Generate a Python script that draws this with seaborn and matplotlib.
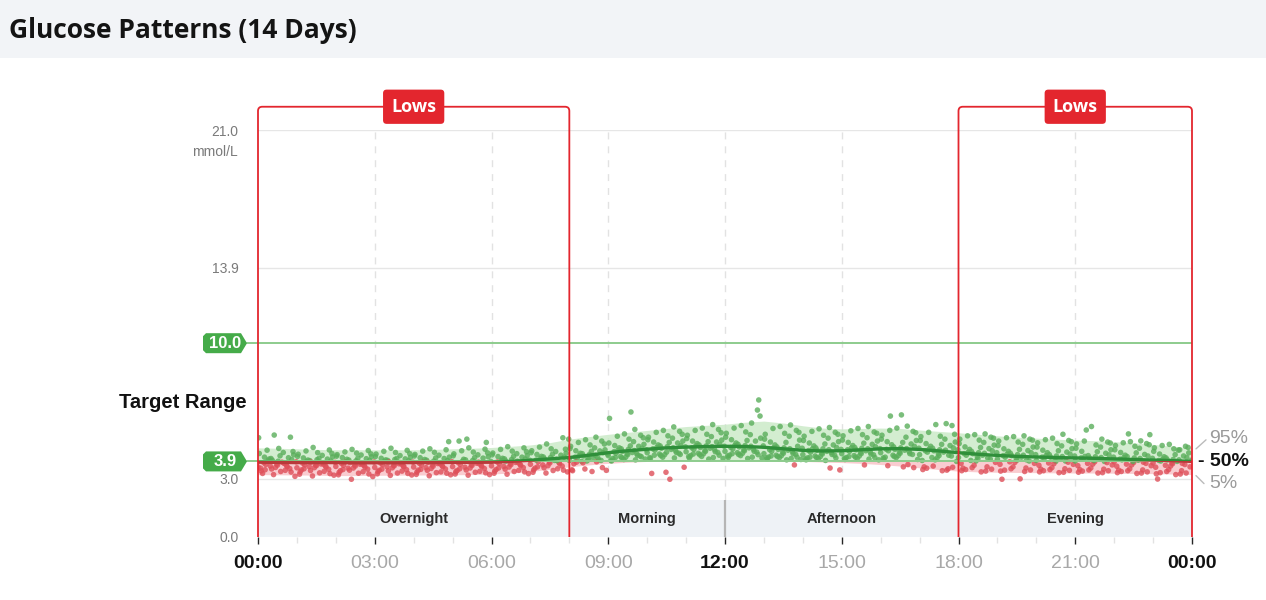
import numpy as np
import pandas as pd
import matplotlib
matplotlib.use("Agg")
import matplotlib.pyplot as plt
import matplotlib.transforms as mtrans
from matplotlib.path import Path
from matplotlib.patches import PathPatch, Rectangle, Polygon
import seaborn as sns

# ---------------- data ----------------
title = "Glucose Patterns (14 Days)"
target_low = 3.9
target_high = 10.0
y_ticks = [0.0, 3.0, 13.9, 21.0]
x_tick_hours = [0, 3, 6, 9, 12, 15, 18, 21, 24]
x_tick_labels = ["00:00", "03:00", "06:00", "09:00", "12:00", "15:00", "18:00", "21:00", "00:00"]
bold_ticks = [0, 12, 24]
period_names = ["Overnight", "Morning", "Afternoon", "Evening"]
period_bounds = [0, 8, 12, 18, 24]
lows_windows = [(0, 8), (18, 24)]

slot_minutes = 20
day_offsets_min = [0, 10, 5, 15, 2, 12, 7, 17, 4, 14, 9, 19, 1, 11]

# readings per hour: 3 slots x 14 days
hour_readings = [
    [3.62, 4.12, 3.41, 3.93, 4.31, 3.74, 3.28, 4.02, 3.55, 4.48, 3.83, 3.66, 5.12, 3.47,
     4.05, 3.71, 5.26, 3.38, 3.96, 4.57, 3.59, 3.86, 3.22, 4.19, 3.77, 4.36, 3.51, 3.91,
     3.81, 5.15, 3.63, 4.24, 3.44, 3.99, 4.09, 3.13, 3.69, 4.41, 3.53, 3.88, 3.79, 3.35],
    [3.57, 4.08, 3.36, 3.90, 4.27, 3.72, 3.46, 3.97, 3.24, 4.44, 3.81, 3.63, 4.16, 3.52,
     3.94, 3.68, 4.62, 3.31, 3.86, 4.35, 3.58, 3.77, 3.15, 4.06, 3.71, 4.21, 3.43, 3.99,
     3.83, 4.49, 3.61, 4.13, 3.39, 3.92, 4.02, 3.19, 3.66, 4.31, 3.49, 3.85, 3.75, 3.27],
    [3.64, 4.10, 3.33, 3.88, 4.25, 3.70, 3.42, 4.01, 3.21, 4.39, 3.79, 3.55, 4.17, 3.48,
     3.97, 3.66, 4.52, 3.29, 3.84, 4.33, 3.56, 3.76, 2.98, 4.07, 3.73, 4.23, 3.45, 3.93,
     3.80, 4.46, 3.60, 4.14, 3.37, 3.95, 4.04, 3.12, 3.68, 4.29, 3.50, 3.87, 3.74, 3.25],
    [3.59, 4.06, 3.38, 3.91, 4.28, 3.73, 3.44, 3.98, 3.26, 4.42, 3.82, 3.62, 4.15, 3.50,
     3.95, 3.67, 4.58, 3.30, 3.87, 4.36, 3.57, 3.78, 3.18, 4.05, 3.70, 4.20, 3.41, 4.00,
     3.84, 4.47, 3.63, 4.11, 3.40, 3.93, 4.03, 3.20, 3.65, 4.30, 3.47, 3.86, 3.76, 3.28],
    [3.61, 4.09, 3.35, 3.89, 4.26, 3.71, 3.45, 4.00, 3.23, 4.43, 3.80, 3.58, 4.18, 3.49,
     3.96, 3.65, 4.55, 3.32, 3.85, 4.37, 3.54, 3.79, 3.16, 4.08, 3.72, 4.22, 3.44, 3.92,
     3.82, 4.50, 3.62, 4.12, 3.36, 3.94, 4.05, 3.21, 3.67, 4.92, 3.51, 3.88, 3.77, 3.29],
    [3.63, 4.95, 3.37, 3.90, 4.29, 3.74, 3.43, 4.01, 3.25, 4.45, 3.83, 3.60, 4.19, 3.52,
     3.98, 3.69, 4.60, 3.34, 5.05, 4.38, 3.56, 3.81, 3.19, 4.10, 3.73, 4.24, 3.46, 3.95,
     3.86, 4.53, 3.64, 4.14, 3.39, 4.88, 4.07, 3.22, 3.70, 4.34, 3.53, 3.90, 3.78, 3.31],
    [3.67, 4.15, 3.40, 3.95, 4.33, 3.78, 3.48, 4.06, 3.29, 4.52, 3.87, 3.64, 4.24, 3.56,
     4.03, 3.73, 4.66, 3.38, 3.92, 4.43, 3.61, 3.85, 3.24, 4.16, 3.79, 4.30, 3.50, 4.00,
     3.91, 4.60, 3.69, 4.20, 3.44, 4.02, 4.12, 3.27, 3.75, 4.40, 3.58, 3.96, 3.84, 3.36],
    [3.75, 4.26, 3.46, 4.05, 4.45, 3.88, 3.55, 4.16, 3.34, 4.64, 3.97, 3.72, 4.35, 3.62,
     4.13, 3.82, 4.80, 3.43, 4.02, 4.55, 3.68, 3.95, 3.30, 4.27, 3.89, 4.41, 3.57, 4.10,
     4.01, 5.12, 3.78, 4.32, 3.52, 4.12, 4.22, 3.36, 3.85, 4.53, 3.66, 5.05, 3.94, 3.45],
    [3.95, 4.45, 3.42, 4.20, 4.68, 4.05, 3.78, 4.32, 3.47, 4.88, 4.12, 3.90, 4.56, 3.86,
     4.30, 4.00, 5.02, 3.38, 4.18, 4.75, 3.92, 4.10, 3.51, 4.42, 4.06, 4.60, 3.83, 4.26,
     4.22, 4.95, 3.98, 4.50, 3.88, 4.35, 4.44, 3.44, 4.08, 4.80, 3.95, 4.28, 5.15, 3.58],
    [4.20, 4.72, 3.92, 4.48, 6.12, 4.32, 4.05, 4.60, 3.96, 5.20, 4.40, 4.15, 4.85, 4.10,
     4.55, 4.25, 5.32, 6.45, 4.42, 5.05, 4.12, 4.36, 4.00, 4.70, 4.30, 4.92, 4.08, 4.52,
     4.46, 5.25, 4.22, 4.78, 3.98, 4.58, 4.68, 4.02, 4.30, 5.12, 4.18, 4.50, 5.55, 4.14],
    [4.35, 4.90, 4.05, 4.62, 5.15, 4.48, 3.28, 4.75, 4.10, 5.40, 4.55, 4.28, 5.02, 4.22,
     4.70, 4.38, 5.50, 2.98, 4.58, 5.22, 4.25, 4.52, 4.12, 4.88, 3.34, 5.10, 4.20, 4.66,
     4.60, 5.45, 4.36, 4.95, 4.08, 4.72, 4.85, 3.60, 4.45, 5.30, 4.32, 4.65, 5.68, 4.26],
    [4.40, 4.95, 4.08, 4.70, 5.25, 4.52, 4.20, 4.82, 4.15, 5.50, 4.60, 4.32, 5.08, 4.28,
     4.75, 4.42, 5.62, 4.02, 4.62, 5.30, 4.30, 4.58, 4.16, 4.92, 4.46, 5.18, 4.24, 4.70,
     4.66, 5.55, 4.40, 5.00, 4.10, 4.78, 4.90, 4.05, 4.50, 5.38, 4.36, 4.68, 5.80, 4.22],
    [4.42, 5.02, 4.10, 4.72, 5.35, 4.55, 4.22, 4.85, 4.18, 5.62, 4.62, 4.35, 5.15, 4.30,
     4.78, 4.45, 5.75, 4.05, 4.65, 5.42, 4.32, 4.60, 4.20, 4.98, 4.50, 5.28, 4.26, 4.72,
     4.68, 6.55, 4.42, 5.10, 4.12, 7.07, 4.95, 4.08, 4.52, 6.24, 4.38, 4.70, 5.88, 4.25],
    [4.30, 4.90, 4.02, 4.60, 5.30, 4.42, 4.12, 4.75, 4.08, 5.60, 4.50, 4.22, 5.05, 4.18,
     4.65, 4.32, 5.70, 3.98, 4.52, 5.35, 4.20, 4.48, 4.10, 4.88, 4.38, 5.20, 4.15, 4.60,
     4.55, 5.50, 4.30, 5.00, 4.05, 4.68, 3.72, 4.00, 4.40, 5.40, 4.26, 4.58, 5.78, 4.12],
    [4.25, 4.85, 3.98, 4.55, 5.20, 4.38, 4.08, 4.70, 4.02, 5.45, 4.46, 4.18, 4.98, 4.12,
     4.60, 4.28, 5.58, 3.95, 4.48, 5.25, 4.15, 4.42, 4.05, 4.80, 4.34, 5.10, 4.10, 4.55,
     4.50, 5.40, 4.26, 4.92, 3.56, 4.62, 4.75, 3.46, 4.36, 5.30, 4.22, 4.52, 5.65, 4.08],
    [4.30, 4.88, 4.00, 4.60, 5.22, 4.42, 4.10, 4.72, 4.05, 5.48, 4.50, 4.20, 5.00, 4.15,
     4.62, 4.30, 5.60, 3.72, 4.50, 5.28, 4.18, 4.45, 4.06, 4.84, 4.36, 5.12, 4.12, 4.58,
     4.55, 5.42, 4.28, 4.95, 4.02, 4.66, 4.78, 3.98, 4.38, 5.35, 4.24, 4.56, 5.70, 4.10],
    [4.35, 4.92, 4.02, 6.24, 5.25, 4.45, 4.12, 4.76, 4.08, 5.50, 4.52, 4.22, 5.05, 3.68,
     4.65, 4.32, 5.62, 3.62, 4.52, 6.30, 4.20, 4.48, 4.10, 4.88, 4.38, 5.15, 4.15, 4.60,
     4.56, 5.45, 4.30, 4.98, 3.74, 4.68, 4.80, 4.00, 4.40, 5.38, 4.26, 4.58, 5.72, 3.58],
    [4.25, 4.82, 3.48, 4.55, 5.18, 4.38, 3.62, 4.68, 3.95, 5.40, 4.45, 4.10, 4.98, 3.55,
     4.58, 4.20, 5.80, 3.42, 4.45, 5.20, 4.08, 4.38, 3.98, 4.78, 4.30, 5.05, 3.66, 4.50,
     4.48, 5.75, 4.22, 4.90, 3.45, 4.60, 4.72, 3.90, 3.52, 5.30, 4.18, 4.50, 5.85, 3.60],
    [4.10, 4.65, 3.42, 4.38, 5.05, 4.22, 3.55, 4.52, 3.80, 5.22, 4.30, 3.95, 4.82, 3.48,
     4.42, 4.05, 5.28, 3.36, 4.30, 5.00, 3.92, 4.22, 3.70, 4.62, 4.15, 4.88, 3.58, 4.35,
     4.32, 5.15, 4.08, 4.74, 3.40, 4.45, 4.56, 3.85, 3.62, 5.10, 4.02, 4.35, 5.32, 3.50],
    [4.02, 4.55, 3.40, 4.28, 4.95, 4.12, 2.98, 4.42, 3.75, 5.12, 4.20, 3.88, 4.72, 3.45,
     4.32, 3.96, 5.18, 3.00, 4.20, 4.90, 3.85, 4.12, 3.62, 4.52, 4.05, 4.78, 3.52, 4.25,
     4.22, 5.05, 3.98, 4.64, 3.38, 4.35, 4.46, 3.80, 3.56, 5.00, 3.92, 4.25, 5.22, 3.46],
    [3.95, 4.48, 3.36, 4.20, 4.86, 4.05, 3.50, 4.35, 3.70, 5.02, 4.12, 3.82, 4.64, 3.42,
     4.25, 3.90, 5.10, 3.32, 4.12, 4.82, 3.78, 4.05, 3.58, 4.45, 3.98, 4.70, 3.48, 4.18,
     4.15, 4.98, 3.92, 4.56, 3.34, 4.28, 4.38, 3.75, 3.52, 4.92, 3.86, 4.18, 5.30, 3.44],
    [3.92, 4.42, 3.34, 4.16, 4.80, 4.02, 3.48, 5.52, 3.68, 4.95, 4.08, 3.80, 4.58, 3.40,
     4.20, 3.88, 5.70, 3.30, 4.08, 4.75, 3.76, 4.02, 3.56, 4.40, 3.95, 4.64, 3.46, 4.14,
     4.10, 4.90, 3.90, 4.50, 3.32, 4.24, 4.32, 3.72, 3.50, 4.85, 3.84, 4.12, 5.05, 3.42],
    [3.88, 4.36, 3.32, 4.10, 4.72, 3.98, 3.45, 4.22, 3.65, 4.86, 4.02, 3.76, 4.50, 3.38,
     4.15, 3.84, 4.92, 3.28, 5.32, 4.68, 3.72, 3.96, 3.52, 4.34, 3.90, 4.58, 3.42, 4.08,
     4.05, 4.82, 3.86, 5.28, 3.30, 4.18, 4.26, 3.68, 3.46, 4.76, 3.80, 4.06, 4.96, 3.36],
    [3.82, 4.28, 3.26, 4.02, 4.60, 3.92, 2.99, 4.14, 3.60, 4.72, 3.95, 3.70, 4.42, 3.32,
     4.08, 3.78, 4.78, 3.22, 3.98, 4.55, 3.66, 3.90, 3.48, 4.25, 3.84, 4.48, 3.38, 4.00,
     3.98, 4.68, 3.80, 4.34, 3.25, 4.10, 4.18, 3.62, 3.42, 4.62, 3.74, 3.96, 4.50, 3.30],
]

# percentile curves every 30 minutes (00:00 .. 24:00)
p5 = [3.22, 3.21, 3.20, 3.19, 3.17, 3.17, 3.18, 3.19, 3.20, 3.20, 3.21, 3.22, 3.25,
      3.30, 3.38, 3.50, 3.62, 3.72, 3.80, 3.86, 3.90, 3.94, 3.96, 3.97, 3.97, 3.96,
      3.95, 3.93, 3.90, 3.87, 3.84, 3.80, 3.74, 3.66, 3.57, 3.48, 3.40, 3.36, 3.34,
      3.33, 3.32, 3.31, 3.30, 3.30, 3.29, 3.28, 3.27, 3.25, 3.22]
p50 = [3.86, 3.85, 3.84, 3.84, 3.84, 3.83, 3.83, 3.83, 3.84, 3.84, 3.85, 3.85, 3.86,
       3.90, 3.96, 4.03, 4.10, 4.22, 4.35, 4.45, 4.53, 4.60, 4.64, 4.67, 4.68, 4.67,
       4.63, 4.55, 4.47, 4.44, 4.45, 4.50, 4.55, 4.56, 4.52, 4.44, 4.35, 4.27, 4.21,
       4.16, 4.13, 4.10, 4.08, 4.06, 4.03, 4.00, 3.97, 3.94, 3.90]
p95 = [4.60, 4.58, 4.55, 4.52, 4.50, 4.50, 4.50, 4.50, 4.50, 4.52, 4.55, 4.58, 4.62,
       4.68, 4.75, 4.87, 5.05, 5.18, 5.30, 5.40, 5.50, 5.60, 5.70, 5.76, 5.82, 5.92,
       5.98, 5.88, 5.74, 5.62, 5.58, 5.60, 5.62, 5.60, 5.52, 5.45, 5.38, 5.30, 5.22,
       5.15, 5.10, 5.05, 5.00, 4.97, 4.92, 4.86, 4.78, 4.68, 4.60]
pct_hours = np.arange(len(p50)) * 0.5

# ---------------- styling ----------------
GREEN_DOT = "#5aae5b"
RED_DOT = "#de4f59"
GREEN_LINE = "#2f8f3a"
RED_LINE = "#b83a3a"
BADGE = "#45ab49"
THRESH = "#8dcc8d"
LOWS_RED = "#e3262e"

sns.set_theme(style="white")
plt.rcParams["font.family"] = ["Liberation Sans", "DejaVu Sans"]

fig = plt.figure(figsize=(12.66, 6.0), dpi=100)
fig.patches.append(Rectangle((0, 1 - 58 / 600), 1, 58 / 600, transform=fig.transFigure,
                             fc="#f2f4f7", ec="none", zorder=0))
fig.text(9 / 1266, 1 - 31 / 600, title, fontfamily=["Open Sans", "DejaVu Sans"],
         fontweight="bold", fontsize=19, va="center", ha="left", color="#141414")

ax = fig.add_axes([258 / 1266, 63 / 600, 934 / 1266, 407 / 600])
ax.set_xlim(0, 24)
ax.set_ylim(0, 21)
for s in ax.spines.values():
    s.set_visible(False)
ax.set_facecolor("white")


def anchor(x, y):
    """pixel offsets (at 100 dpi) around a data point"""
    return (mtrans.Affine2D().scale(1 / 100) + fig.dpi_scale_trans
            + mtrans.ScaledTranslation(x, y, ax.transData))


band_top = 1.9
# gridlines
for v in [3.0, 13.9, 21.0]:
    ax.axhline(v, color="#e6e6e6", lw=1, zorder=0.4)
for h in x_tick_hours:
    if h in (0, 24, 18, 8):
        continue
    ax.vlines(h, band_top, 21, color="#e2e2e2", lw=1, ls=(0, (5, 5)), zorder=0.4)

# period band
ax.add_patch(Rectangle((0, 0), 24, band_top, fc="#eef2f6", ec="none", zorder=0.5))
for i, name in enumerate(period_names):
    a, b = period_bounds[i], period_bounds[i + 1]
    ax.text((a + b) / 2, band_top / 2, name, ha="center", va="center", fontsize=10.5,
            fontweight="bold", color="#2b2b2b", zorder=1)
    if 0 < a and not any(a in w for w in lows_windows):
        ax.vlines(a, 0, band_top, color="#b5b5b5", lw=1.6, zorder=1)

# percentile bands, split at target_low
clip_hi = Rectangle((0, target_low), 24, 30, transform=ax.transData)
clip_lo = Rectangle((0, -5), 24, target_low + 5, transform=ax.transData)
fb_g = ax.fill_between(pct_hours, p5, p95, color="#c8e9c5", alpha=0.8, lw=0, zorder=1)
fb_g.set_clip_path(clip_hi)
fb_r = ax.fill_between(pct_hours, p5, p95, color="#f8c4c8", alpha=0.85, lw=0, zorder=1)
fb_r.set_clip_path(clip_lo)

# scatter readings
rows = []
for h, vals in enumerate(hour_readings):
    for i, v in enumerate(vals):
        slot = h * 3 + i // 14
        day = i % 14
        t = (slot * slot_minutes + day_offsets_min[day]) / 60
        rows.append((t, v, "Low" if v < target_low else "In range"))
df = pd.DataFrame(rows, columns=["hour", "glucose", "status"])
sns.scatterplot(data=df, x="hour", y="glucose", hue="status",
                palette={"Low": RED_DOT, "In range": GREEN_DOT},
                s=16, linewidth=0, alpha=0.8, legend=False, ax=ax, zorder=2)

# target lines + badges
for v in [target_high, target_low]:
    ax.plot([0, 24], [v, v], color=THRESH, lw=1.4, zorder=2.5, solid_capstyle="butt")
    t = anchor(0, v)
    ax.plot([-11, 0], [0, 0], color=THRESH, lw=1.4, transform=t, clip_on=False, zorder=2.5)
    verts = [(-52, -10), (-17, -10), (-11, 0), (-17, 10), (-52, 10), (-55, 7), (-55, -7)]
    ax.add_patch(Polygon(verts, closed=True, transform=t, fc=BADGE, ec="none",
                         clip_on=False, zorder=5))
    ax.text(-33, 0, f"{v:.1f}", transform=t, ha="center", va="center", color="white",
            fontweight="bold", fontsize=12, clip_on=False, zorder=6)

# median line (green above target_low, red below)
sns.lineplot(x=pct_hours, y=p50, color=GREEN_LINE, lw=2.4, ax=ax, zorder=3)
ax.lines[-1].set_clip_path(clip_hi)
sns.lineplot(x=pct_hours, y=p50, color=RED_LINE, lw=2.4, ax=ax, zorder=3)
ax.lines[-1].set_clip_path(clip_lo)

# Lows windows
top = 22.2
rx, ry = 0.11, 0.22
for a, b in lows_windows:
    verts = [(a, 0), (a, top - ry), (a, top), (a + rx, top), (b - rx, top), (b, top),
             (b, top - ry), (b, 0)]
    codes = [Path.MOVETO, Path.LINETO, Path.CURVE3, Path.CURVE3, Path.LINETO,
             Path.CURVE3, Path.CURVE3, Path.LINETO]
    ax.add_patch(PathPatch(Path(verts, codes), fill=False, ec=LOWS_RED, lw=1.3,
                           clip_on=False, zorder=4))
    ax.text((a + b) / 2, top, "Lows", ha="center", va="center", color="white",
            fontfamily=["Open Sans", "DejaVu Sans"], fontweight="bold", fontsize=13,
            zorder=6, clip_on=False,
            bbox=dict(boxstyle="round,pad=0.45,rounding_size=0.2", fc=LOWS_RED, ec="none"))

# y axis labels
ax.set_yticks(y_ticks)
ax.set_yticklabels([f"{v:.1f}" for v in y_ticks])
ax.tick_params(axis="y", length=0, pad=14, labelsize=10, labelcolor="#7a7a7a")
ax.text(-20, -22, "mmol/L", transform=anchor(0, 21.0), ha="right", va="center",
        fontsize=10, color="#7a7a7a")
ax.text(-11, 0, "Target Range", transform=anchor(0, (target_low + target_high) / 2),
        ha="right", va="center", fontsize=14.5, fontweight="bold", color="#111")

# x axis
ax.set_xticks(x_tick_hours)
ax.set_xticklabels(x_tick_labels)
ax.set_xticks(range(0, 25), minor=True)
ax.tick_params(axis="x", which="major", length=5, width=1, pad=8, labelsize=14, bottom=True)
ax.tick_params(axis="x", which="minor", length=4, width=1, color="#e2e2e2", bottom=True)
for h, tick, lab in zip(x_tick_hours, ax.xaxis.get_major_ticks(), ax.get_xticklabels()):
    if h in bold_ticks:
        lab.set_fontweight("bold")
        lab.set_color("#111")
        tick.tick1line.set_color("#555")
    else:
        lab.set_color("#a8a8a8")
        tick.tick1line.set_color("#e2e2e2")
ax.set_xlabel("")
ax.set_ylabel("")

# percentile labels at the right
ax.text(17, 9, "95%", transform=anchor(24, p95[-1]), ha="left", va="center",
        fontsize=14, color="#9a9a9a")
ax.plot([4, 14], [-1, 8], transform=anchor(24, p95[-1]), color="#bbbbbb", lw=1,
        clip_on=False)
ax.text(6, 0, "- 50%", transform=anchor(24, p50[-1]), ha="left", va="center",
        fontsize=14, fontweight="bold", color="#111")
ax.text(17, -9, "5%", transform=anchor(24, p5[-1]), ha="left", va="center",
        fontsize=14, color="#9a9a9a")
ax.plot([4, 12], [-1, -9], transform=anchor(24, p5[-1]), color="#bbbbbb", lw=1,
        clip_on=False)

fig.savefig("out.png", dpi=100)
